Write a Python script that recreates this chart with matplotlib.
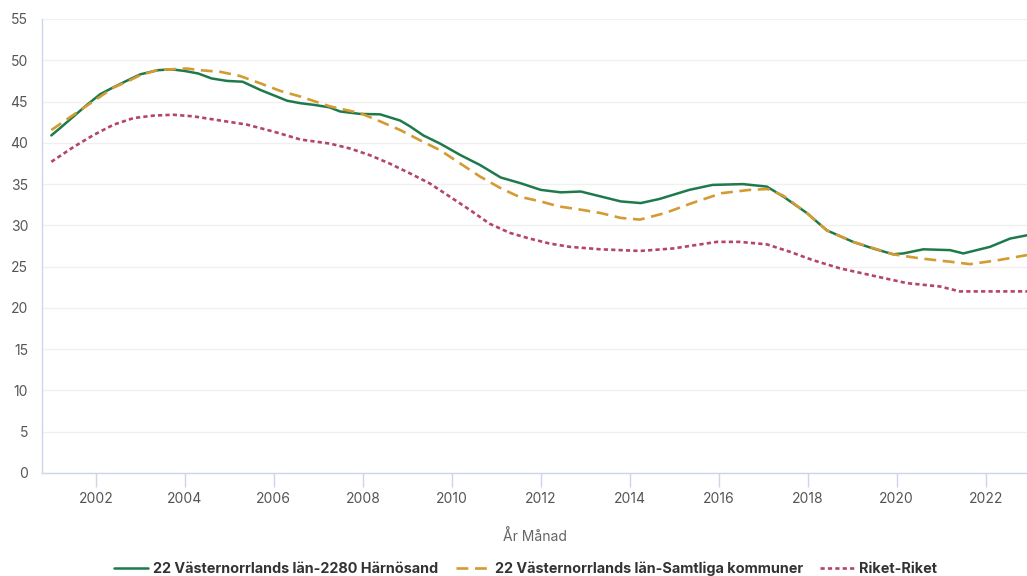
import matplotlib
matplotlib.use("Agg")
import matplotlib.pyplot as plt
from matplotlib.ticker import MultipleLocator

plt.rcParams['font.family'] = ['Inter', 'DejaVu Sans']

# Härnösand (green, solid)
g_x = [2001.0, 2001.2, 2001.5, 2001.8, 2002.1, 2002.35, 2002.65, 2003.0, 2003.4, 2003.7,
       2004.0, 2004.3, 2004.6, 2004.95, 2005.3, 2005.7, 2006.07, 2006.3, 2006.6, 2006.9,
       2007.25, 2007.49, 2007.94, 2008.39, 2008.84, 2009.06, 2009.36, 2009.74, 2010.2, 2010.64,
       2011.1, 2011.55, 2012.0, 2012.45, 2012.9, 2013.35, 2013.8, 2014.25, 2014.67, 2015.34,
       2015.86, 2016.54, 2017.08, 2017.45, 2017.98, 2018.43, 2019.02, 2019.47, 2019.92, 2020.15,
       2020.6, 2021.2, 2021.5, 2022.1, 2022.55, 2022.93]
g_y = [40.9, 41.8, 43.2, 44.6, 45.9, 46.6, 47.4, 48.3, 48.8, 48.9,
       48.7, 48.4, 47.8, 47.5, 47.4, 46.4, 45.6, 45.1, 44.8, 44.6,
       44.3, 43.8, 43.5, 43.45, 42.7, 42.0, 40.9, 39.9, 38.5, 37.3,
       35.8, 35.1, 34.3, 34.0, 34.1, 33.5, 32.9, 32.7, 33.2, 34.3,
       34.9, 35.0, 34.7, 33.5, 31.5, 29.4, 28.0, 27.2, 26.5, 26.6,
       27.1, 27.0, 26.6, 27.4, 28.4, 28.8]

# Samtliga kommuner (gold, dashed)
s_x = [2001.0, 2001.5, 2001.8, 2002.1, 2002.4, 2002.7, 2003.0, 2003.37, 2003.67, 2004.05,
       2004.34, 2004.8, 2005.24, 2005.7, 2006.14, 2006.6, 2007.27, 2007.94, 2008.39, 2008.84,
       2009.29, 2009.74, 2010.19, 2010.64, 2011.1, 2011.5, 2012.0, 2012.4, 2012.9, 2013.34,
       2013.8, 2014.23, 2014.8, 2015.4, 2016.07, 2016.7, 2017.1, 2017.45, 2017.98, 2018.43,
       2019.02, 2019.92, 2020.52, 2021.2, 2021.65, 2022.3, 2022.93]
s_y = [41.55, 43.4, 44.5, 45.6, 46.7, 47.4, 48.2, 48.8, 48.9, 49.0,
       48.8, 48.6, 48.1, 47.2, 46.3, 45.6, 44.4, 43.6, 42.6, 41.55,
       40.3, 39.1, 37.5, 35.9, 34.5, 33.5, 32.9, 32.3, 31.9, 31.5,
       30.9, 30.7, 31.5, 32.7, 33.9, 34.3, 34.4, 33.6, 31.5, 29.4,
       28.0, 26.5, 26.0, 25.6, 25.3, 25.8, 26.4]

# Riket (red, dotted)
r_x = [2001.0, 2001.5, 2001.95, 2002.4, 2002.85, 2003.3, 2003.74, 2004.2, 2004.8, 2005.4,
       2006.0, 2006.6, 2007.27, 2007.72, 2008.16, 2008.6, 2009.06, 2009.5, 2009.95, 2010.4,
       2010.85, 2011.3, 2011.75, 2012.2, 2012.65, 2013.34, 2013.8, 2014.23, 2014.97, 2015.96,
       2016.47, 2017.08, 2017.6, 2018.11, 2018.72, 2019.47, 2020.23, 2020.97, 2021.42, 2022.48,
       2022.93]
r_y = [37.7, 39.5, 40.95, 42.2, 43.0, 43.3, 43.4, 43.2, 42.7, 42.2,
       41.35, 40.4, 39.9, 39.3, 38.5, 37.5, 36.3, 35.1, 33.5, 31.9,
       30.2, 29.1, 28.4, 27.8, 27.4, 27.1, 27.0, 26.9, 27.2, 28.0,
       28.0, 27.7, 26.8, 25.8, 24.8, 23.9, 23.0, 22.6, 22.0, 22.0,
       22.0]

labels = ["22 Västernorrlands län-2280 Härnösand",
          "22 Västernorrlands län-Samtliga kommuner",
          "Riket-Riket"]
colors = ["#1f7a4b", "#d39b32", "#b4446e"]
x_ticks = [2002, 2004, 2006, 2008, 2010, 2012, 2014, 2016, 2018, 2020, 2022]

W, H = 1027, 576
fig = plt.figure(figsize=(W / 100, H / 100), dpi=100)
ax = fig.add_axes([42 / W, (H - 473) / H, (W - 42) / W, (473 - 19) / H])

ax.plot(g_x, g_y, color=colors[0], lw=1.8, label=labels[0], solid_capstyle='round')
ax.plot(s_x, s_y, color=colors[1], lw=1.9, dashes=(4.5, 2.5), label=labels[1])
ax.plot(r_x, r_y, color=colors[2], lw=1.9, dashes=(1.6, 1.2), label=labels[2])

ax.set_xlim(2000.79, 2022.93)
ax.set_ylim(0, 55)
ax.yaxis.set_major_locator(MultipleLocator(5))
ax.set_xticks(x_ticks)
ax.set_xticklabels([str(t) for t in x_ticks])

ax.grid(axis='y', color='#f0f0f0', lw=1)
ax.set_axisbelow(True)
for s in ['top', 'right']:
    ax.spines[s].set_visible(False)
for s in ['left', 'bottom']:
    ax.spines[s].set_color('#ccd6eb')
    ax.spines[s].set_linewidth(1)

ax.tick_params(axis='y', length=0, pad=10, labelsize=10, labelcolor='#555555')
ax.tick_params(axis='x', length=10, width=1, color='#ccd6eb', pad=4,
               labelsize=10, labelcolor='#555555')

ax.set_xlabel("År Månad", fontsize=10, color='#666666', labelpad=16)

leg = fig.legend(loc='lower center', bbox_to_anchor=(0.512, -0.022), ncol=3, frameon=False,
                 handlelength=2.3, columnspacing=1.2, handletextpad=0.4,
                 prop={'weight': 'bold', 'size': 10.4})
for t in leg.get_texts():
    t.set_color('#333333')

fig.savefig("out.png", dpi=100)
